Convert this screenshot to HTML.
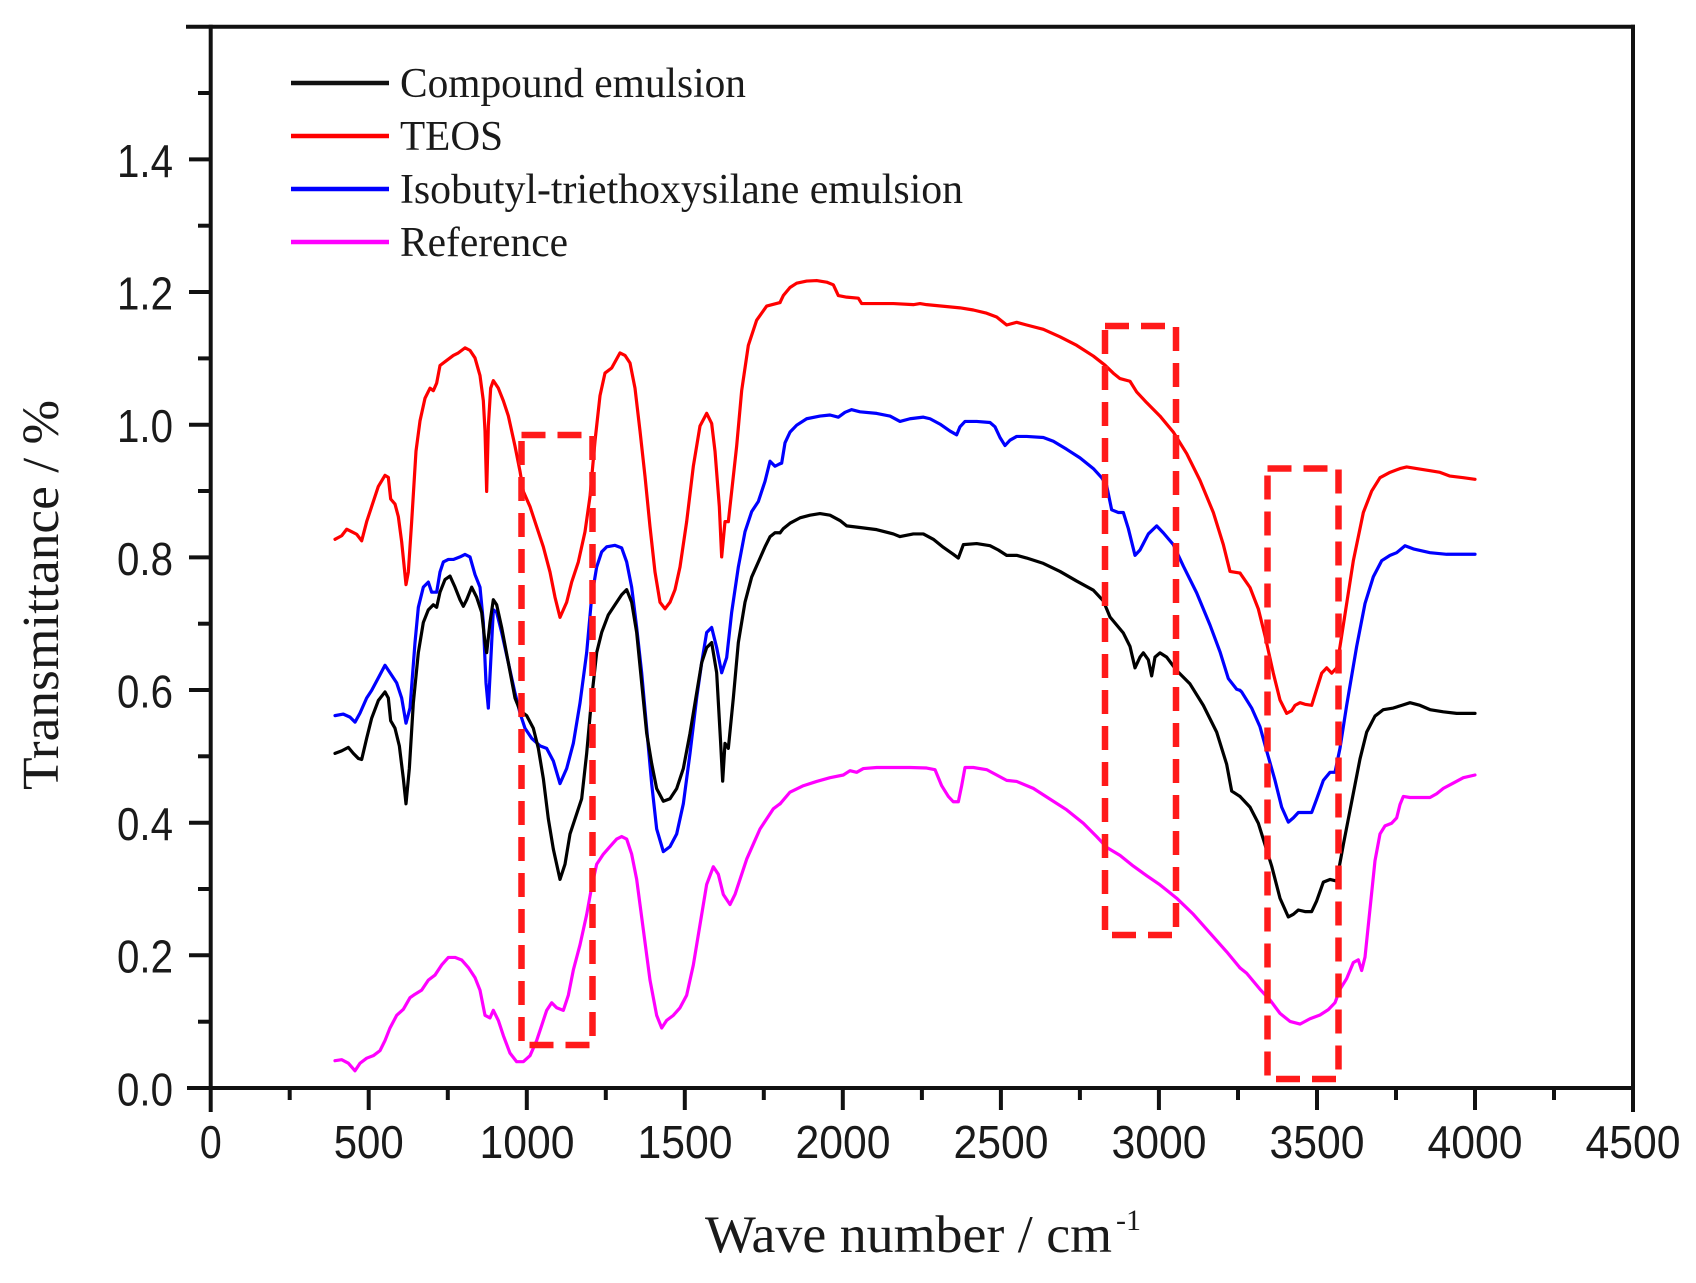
<!DOCTYPE html>
<html>
<head>
<meta charset="utf-8">
<style>
html,body{margin:0;padding:0;background:#fff;}
svg{display:block;}
.tick{font-family:"Liberation Sans",Arial,sans-serif;font-size:46px;fill:#1a1a1a;}
.serif{font-family:"Liberation Serif","Times New Roman",serif;fill:#1a1a1a;}
.c{fill:none;stroke-width:3.2;stroke-linejoin:round;stroke-linecap:round;}
</style>
</head>
<body>
<svg width="1696" height="1283" viewBox="0 0 1696 1283" xmlns="http://www.w3.org/2000/svg">
<rect x="0" y="0" width="1696" height="1283" fill="#fff"/>

<!-- curves: region 1 -->
<g transform="translate(300,300) scale(0.333333,0.503778)">
<polyline class="c" vector-effect="non-scaling-stroke" stroke="#ff0000" points="105,475 125,468 140,455 155,460 170,465 185,478 200,440 215,410 235,370 255,348 265,352 272,395 285,405 295,430 305,480 318,565 325,540 335,440 348,300 360,240 375,195 390,175 400,180 410,165 420,130 440,120 460,110 475,105 495,95 510,100 525,115 540,150 550,200 555,260 560,380 565,250 572,175 580,160 595,175 610,200 625,230 645,290 660,340 670,380 690,410 710,450 730,490 750,540 765,590 780,630 800,600 815,560 835,520 855,460 870,390 885,280 900,190 915,145 935,135 960,105 975,110 990,125 1005,175 1020,260 1035,350 1050,450 1065,540 1080,600 1095,613 1110,600 1125,575 1140,530 1160,440 1180,330 1200,250 1220,225 1235,245 1245,300 1258,410 1265,510 1275,440 1285,440 1295,380 1310,290 1325,180 1345,90 1370,40 1400,12 1440,5"/>
<polyline class="c" vector-effect="non-scaling-stroke" stroke="#0000ff" points="105,825 130,822 150,828 165,838 180,820 200,790 215,775 235,750 255,725 270,740 290,760 305,790 318,840 330,810 345,680 355,610 370,570 385,560 395,580 410,580 420,540 430,520 445,515 460,515 480,510 495,505 510,510 525,545 540,570 550,640 558,760 565,810 572,720 580,615 590,620 605,660 625,720 645,780 660,820 675,850 695,870 720,885 740,890 760,915 780,960 800,930 820,880 840,800 860,700 875,590 890,530 905,500 920,490 945,487 965,492 980,520 995,570 1010,650 1025,740 1040,850 1055,960 1070,1050 1090,1095 1110,1085 1130,1060 1150,1000 1170,900 1190,790 1205,720 1220,660 1235,650 1250,690 1265,740 1280,710 1295,620 1315,530 1335,460 1355,420 1375,400 1395,360 1410,320 1425,330 1440,325"/>
<polyline class="c" vector-effect="non-scaling-stroke" stroke="#000000" points="105,900 125,895 145,888 160,900 175,910 185,912 200,870 215,830 235,795 255,778 265,790 272,835 285,850 298,885 310,950 318,1000 328,930 340,800 355,700 370,640 385,615 400,605 410,610 420,580 435,555 450,548 465,570 480,595 490,608 500,595 515,570 530,590 545,620 555,680 560,700 570,640 580,595 590,605 605,650 625,720 645,790 660,815 680,825 700,850 715,890 730,950 745,1030 760,1090 780,1150 795,1120 810,1060 830,1020 845,990 860,900 875,790 890,700 905,660 925,625 945,605 965,585 980,575 995,600 1010,660 1025,760 1040,860 1055,920 1070,970 1090,995 1110,990 1130,970 1150,930 1170,860 1190,780 1205,720 1220,690 1235,680 1250,740 1262,880 1268,955 1275,880 1285,890 1300,790 1315,680 1335,600 1355,550 1375,520 1395,490 1410,470 1425,462 1440,462"/>
<polyline class="c" vector-effect="non-scaling-stroke" stroke="#ff00ff" points="105,1510 125,1508 145,1515 165,1530 180,1515 200,1505 220,1500 240,1490 255,1470 270,1445 290,1420 310,1408 330,1385 345,1378 365,1370 385,1350 405,1340 425,1320 445,1305 465,1305 485,1310 505,1325 525,1345 540,1370 555,1420 570,1425 580,1410 595,1430 610,1460 630,1495 650,1512 670,1512 690,1500 710,1470 725,1440 740,1410 755,1395 770,1405 790,1410 805,1380 820,1330 840,1280 860,1220 875,1165 890,1120 910,1100 930,1085 950,1070 965,1065 980,1070 995,1100 1010,1150 1030,1250 1050,1350 1070,1420 1085,1445 1100,1430 1120,1420 1140,1405 1160,1380 1180,1320 1200,1240 1220,1160 1240,1125 1255,1140 1270,1180 1290,1200 1305,1180 1320,1150 1340,1110 1360,1080 1380,1050 1400,1030 1420,1010 1440,1000"/>
</g>

<!-- curves: region 2 -->
<g transform="translate(760,250) scale(0.333333,0.535714)">
<polyline class="c" vector-effect="non-scaling-stroke" stroke="#ff0000" points="60,98 70,85 90,70 110,62 140,58 170,57 200,60 220,65 235,85 260,88 295,90 305,100 350,100 400,100 460,102 480,100 500,102 550,105 600,108 640,112 680,118 710,125 740,140 770,135 800,140 850,148 900,162 950,178 1000,198 1035,215 1060,230 1080,240 1110,245 1130,265 1160,285 1200,310 1240,340 1280,380 1320,430 1360,490 1390,550 1410,600 1440,603"/>
<polyline class="c" vector-effect="non-scaling-stroke" stroke="#0000ff" points="60,399 65,398 75,360 90,340 110,327 140,315 180,310 210,308 235,312 255,303 275,298 300,302 350,305 390,310 420,320 450,315 490,312 510,315 540,325 570,338 590,345 600,330 615,320 650,320 690,322 705,330 720,350 735,365 750,355 770,348 800,348 850,350 880,357 920,372 960,388 1000,408 1025,425 1040,440 1055,485 1075,490 1090,490 1105,520 1125,570 1140,560 1165,530 1190,515 1210,528 1240,550 1270,590 1310,640 1350,700 1380,750 1405,800 1430,820 1440,822"/>
<polyline class="c" vector-effect="non-scaling-stroke" stroke="#000000" points="60,528 70,520 90,510 120,500 150,495 180,492 210,495 240,505 260,515 300,518 350,522 400,530 420,535 460,530 490,530 520,540 550,555 580,568 595,575 610,550 650,548 690,552 715,560 740,570 770,570 800,575 850,585 900,600 950,618 1000,635 1030,655 1050,685 1070,700 1090,715 1110,740 1125,780 1140,760 1150,752 1165,765 1175,795 1185,760 1200,752 1220,760 1250,785 1290,810 1330,850 1370,900 1400,960 1415,1010 1440,1020"/>
<polyline class="c" vector-effect="non-scaling-stroke" stroke="#ff00ff" points="60,1034 90,1012 130,1000 170,992 210,985 250,980 270,972 290,975 310,968 350,966 400,966 450,966 500,967 525,970 545,1000 565,1020 580,1030 595,1030 605,1000 615,966 640,966 680,970 710,980 740,990 770,992 820,1005 870,1025 920,1045 970,1070 1010,1095 1040,1115 1080,1130 1120,1150 1160,1168 1200,1185 1250,1210 1300,1240 1350,1275 1400,1310 1440,1340"/>
</g>

<!-- curves: region 3 -->
<g transform="translate(1180,250) scale(0.333333,0.535714)">
<polyline class="c" vector-effect="non-scaling-stroke" stroke="#ff0000" points="180,603 210,630 235,670 255,720 280,790 300,840 320,865 335,860 345,850 360,845 375,848 395,850 410,820 425,790 440,780 455,790 470,780 490,700 520,580 550,490 575,450 600,425 630,415 660,408 680,405 710,408 750,412 780,415 810,422 850,425 885,428"/>
<polyline class="c" vector-effect="non-scaling-stroke" stroke="#0000ff" points="180,822 185,825 215,855 240,890 260,935 285,990 305,1040 325,1068 340,1060 355,1050 375,1050 395,1050 410,1025 430,990 450,975 465,975 480,930 500,850 530,740 555,660 580,610 605,580 630,570 650,565 675,552 700,558 750,565 800,568 885,568"/>
<polyline class="c" vector-effect="non-scaling-stroke" stroke="#000000" points="180,1020 210,1040 235,1070 255,1110 275,1150 300,1210 325,1245 340,1240 355,1232 375,1235 395,1235 410,1215 430,1180 450,1175 470,1178 490,1110 515,1030 540,950 560,900 585,870 610,858 640,855 665,850 690,845 720,850 750,858 790,862 830,865 885,865"/>
<polyline class="c" vector-effect="non-scaling-stroke" stroke="#ff00ff" points="180,1340 200,1350 240,1380 270,1400 300,1425 330,1440 360,1445 390,1435 420,1428 445,1418 465,1405 480,1380 500,1360 520,1330 535,1325 545,1345 555,1320 570,1230 585,1140 600,1090 615,1075 635,1070 650,1060 660,1035 670,1020 690,1022 720,1022 750,1022 770,1015 790,1005 820,995 850,985 885,980"/>
</g>

<!-- dashed boxes -->
<g fill="none" stroke="#ff1a1a" stroke-width="6.5" stroke-dasharray="24 12">
<rect x="521.5" y="435" width="71" height="610"/>
<rect x="1105" y="326" width="71" height="609"/>
<rect x="1267.5" y="468.5" width="71" height="610.5"/>
</g>

<!-- frame -->
<g stroke="#111" stroke-width="4" fill="none" stroke-linecap="square">
<line x1="188" y1="26.7" x2="1633" y2="26.7"/>
<line x1="189" y1="1088" x2="1633" y2="1088"/>
<line x1="210.7" y1="26.7" x2="210.7" y2="1110"/>
<line x1="1633" y1="26.7" x2="1633" y2="1110"/>
</g>
<!-- y ticks -->
<g stroke="#111" stroke-width="4">
<line x1="189" y1="955.3" x2="210" y2="955.3"/>
<line x1="189" y1="822.7" x2="210" y2="822.7"/>
<line x1="189" y1="690" x2="210" y2="690"/>
<line x1="189" y1="557.4" x2="210" y2="557.4"/>
<line x1="189" y1="424.7" x2="210" y2="424.7"/>
<line x1="189" y1="292" x2="210" y2="292"/>
<line x1="189" y1="159.4" x2="210" y2="159.4"/>
<line x1="198" y1="1021.7" x2="210" y2="1021.7"/>
<line x1="198" y1="889" x2="210" y2="889"/>
<line x1="198" y1="756.3" x2="210" y2="756.3"/>
<line x1="198" y1="623.7" x2="210" y2="623.7"/>
<line x1="198" y1="491" x2="210" y2="491"/>
<line x1="198" y1="358.4" x2="210" y2="358.4"/>
<line x1="198" y1="225.7" x2="210" y2="225.7"/>
<line x1="198" y1="93" x2="210" y2="93"/>
</g>
<!-- x ticks -->
<g stroke="#111" stroke-width="4">
<line x1="368.7" y1="1088" x2="368.7" y2="1110"/>
<line x1="526.8" y1="1088" x2="526.8" y2="1110"/>
<line x1="684.8" y1="1088" x2="684.8" y2="1110"/>
<line x1="842.8" y1="1088" x2="842.8" y2="1110"/>
<line x1="1000.9" y1="1088" x2="1000.9" y2="1110"/>
<line x1="1158.9" y1="1088" x2="1158.9" y2="1110"/>
<line x1="1317" y1="1088" x2="1317" y2="1110"/>
<line x1="1475" y1="1088" x2="1475" y2="1110"/>
<line x1="289.7" y1="1088" x2="289.7" y2="1100"/>
<line x1="447.8" y1="1088" x2="447.8" y2="1100"/>
<line x1="605.8" y1="1088" x2="605.8" y2="1100"/>
<line x1="763.8" y1="1088" x2="763.8" y2="1100"/>
<line x1="921.9" y1="1088" x2="921.9" y2="1100"/>
<line x1="1079.9" y1="1088" x2="1079.9" y2="1100"/>
<line x1="1238" y1="1088" x2="1238" y2="1100"/>
<line x1="1396" y1="1088" x2="1396" y2="1100"/>
<line x1="1554" y1="1088" x2="1554" y2="1100"/>
</g>

<!-- y tick labels -->
<g class="tick" text-anchor="end">
<text x="173" y="1105.4" textLength="56" lengthAdjust="spacingAndGlyphs">0.0</text>
<text x="173" y="972.7" textLength="56" lengthAdjust="spacingAndGlyphs">0.2</text>
<text x="173" y="840.1" textLength="56" lengthAdjust="spacingAndGlyphs">0.4</text>
<text x="173" y="707.4" textLength="56" lengthAdjust="spacingAndGlyphs">0.6</text>
<text x="173" y="574.8" textLength="56" lengthAdjust="spacingAndGlyphs">0.8</text>
<text x="173" y="442.1" textLength="56" lengthAdjust="spacingAndGlyphs">1.0</text>
<text x="173" y="309.4" textLength="56" lengthAdjust="spacingAndGlyphs">1.2</text>
<text x="173" y="176.8" textLength="56" lengthAdjust="spacingAndGlyphs">1.4</text>
</g>
<!-- x tick labels -->
<g class="tick" text-anchor="middle">
<text x="210.7" y="1158" textLength="22" lengthAdjust="spacingAndGlyphs">0</text>
<text x="368.7" y="1158" textLength="70" lengthAdjust="spacingAndGlyphs">500</text>
<text x="527" y="1158" textLength="95" lengthAdjust="spacingAndGlyphs">1000</text>
<text x="685" y="1158" textLength="95" lengthAdjust="spacingAndGlyphs">1500</text>
<text x="843" y="1158" textLength="95" lengthAdjust="spacingAndGlyphs">2000</text>
<text x="1001" y="1158" textLength="95" lengthAdjust="spacingAndGlyphs">2500</text>
<text x="1159" y="1158" textLength="95" lengthAdjust="spacingAndGlyphs">3000</text>
<text x="1317" y="1158" textLength="95" lengthAdjust="spacingAndGlyphs">3500</text>
<text x="1475" y="1158" textLength="95" lengthAdjust="spacingAndGlyphs">4000</text>
<text x="1633" y="1158" textLength="95" lengthAdjust="spacingAndGlyphs">4500</text>
</g>

<!-- axis titles -->
<text class="serif" x="705" y="1252" font-size="53" textLength="407" lengthAdjust="spacingAndGlyphs">Wave number / cm</text>
<text class="serif" x="1116" y="1230" font-size="30">-1</text>
<text class="serif" transform="translate(58,595) rotate(-90)" text-anchor="middle" font-size="52" textLength="390" lengthAdjust="spacingAndGlyphs">Transmittance / %</text>

<!-- legend -->
<g stroke-width="4.5">
<line x1="291" y1="83" x2="389" y2="83" stroke="#111"/>
<line x1="291" y1="136" x2="389" y2="136" stroke="#ff0000"/>
<line x1="291" y1="189" x2="389" y2="189" stroke="#0000ff"/>
<line x1="291" y1="242" x2="389" y2="242" stroke="#ff00ff"/>
</g>
<g class="serif" font-size="42">
<text x="400" y="97" textLength="346" lengthAdjust="spacingAndGlyphs">Compound emulsion</text>
<text x="400" y="150" textLength="103" lengthAdjust="spacingAndGlyphs">TEOS</text>
<text x="400" y="203" textLength="563" lengthAdjust="spacingAndGlyphs">Isobutyl-triethoxysilane emulsion</text>
<text x="400" y="256" textLength="168" lengthAdjust="spacingAndGlyphs">Reference</text>
</g>
</svg>
</body>
</html>
